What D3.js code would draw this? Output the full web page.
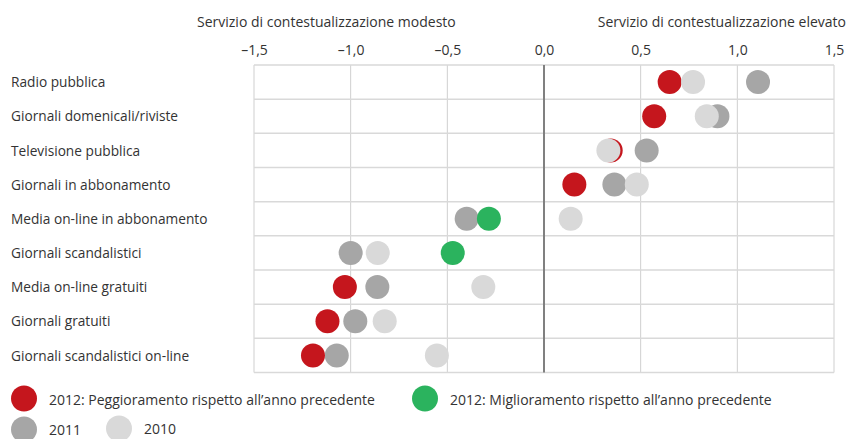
<!DOCTYPE html>
<html><head><meta charset="utf-8">
<script src="https://cdn.jsdelivr.net/npm/d3@7"></script>
<style>
body{margin:0;background:#fff;}
text{font-family:"Open Sans",sans-serif;fill:#333;}
</style></head>
<body><svg id="c" width="847" height="439"></svg>
<script>
const categories = ["Radio pubblica","Giornali domenicali/riviste","Televisione pubblica","Giornali in abbonamento","Media on-line in abbonamento","Giornali scandalistici","Media on-line gratuiti","Giornali gratuiti","Giornali scandalistici on-line"];
const v2012 = [0.65,0.57,0.345,0.157,-0.285,-0.472,-1.03,-1.12,-1.195];
const trend2012 = ["down","down","down","down","up","up","down","down","down"];
const v2011 = [1.107,0.897,0.531,0.364,-0.40,-1.00,-0.862,-0.976,-1.072];
const v2010 = [0.771,0.842,0.333,0.48,0.138,-0.86,-0.314,-0.824,-0.554];
const tickValues = [-1.5,-1.0,-0.5,0,0.5,1.0,1.5];
const tickLabels = ["–1,5","–1,0","–0,5","0,0","0,5","1,0","1,5"];
const axisTitles = ["Servizio di contestualizzazione modesto","Servizio di contestualizzazione elevato"];
const legendItems = [
 {key:"down",label:"2012: Peggioramento rispetto all’anno precedente"},
 {key:"up",label:"2012: Miglioramento rispetto all’anno precedente"},
 {key:"y2011",label:"2011"},
 {key:"y2010",label:"2010"}];

const colors = {down:"#c5161d", up:"#2bb35e", y2011:"#a6a6a6", y2010:"#d9d9d9"};
const svg = d3.select("#c");
const x = d3.scaleLinear().domain([-1.5,1.5]).range([254,834]);
const y = d3.scaleBand().domain(categories).range([65,372.5]);
const r = 12;

// grid
const g = svg.append("g");
g.append("g").attr("transform","translate(0,65)")
 .call(d3.axisTop(x).tickValues(tickValues).tickFormat((d,i)=>tickLabels[i]).tickSize(0).tickPadding(10))
 .call(a=>a.select(".domain").remove())
 .call(a=>a.selectAll("text").attr("font-size",14).attr("font-family","Open Sans").attr("fill","#333").attr("dy","0"));
g.selectAll(".vl").data(tickValues.filter(d=>d!==0)).join("line")
 .attr("x1",d=>x(d)).attr("x2",d=>x(d)).attr("y1",65).attr("y2",372.5)
 .attr("stroke","#cfcfcf").attr("stroke-width",1);
g.selectAll(".hl").data(categories.concat(["_end"])).join("line")
 .attr("x1",254).attr("x2",834)
 .attr("y1",(d,i)=>i<categories.length?y(d):y.range()[1])
 .attr("y2",(d,i)=>i<categories.length?y(d):y.range()[1])
 .attr("stroke","#d9d9d9").attr("stroke-width",1.5);
g.append("line").attr("x1",x(0)).attr("x2",x(0)).attr("y1",65).attr("y2",372.5)
 .attr("stroke","#808080").attr("stroke-width",2);

// titles
svg.append("text").attr("x",x(-1.5)-57).attr("y",27).attr("font-size",14).text(axisTitles[0]);
svg.append("text").attr("x",846).attr("y",27).attr("text-anchor","end").attr("font-size",14).text(axisTitles[1]);

// category labels
svg.selectAll(".cl").data(categories).join("text")
 .attr("x",11).attr("y",d=>y(d)+y.bandwidth()/2).attr("dy","0.38em")
 .attr("font-size",13.7).text(d=>d);

// dots
const cy = d=>y(d)+y.bandwidth()/2;
svg.selectAll(".d11").data(categories).join("circle")
 .attr("cx",(d,i)=>x(v2011[i])).attr("cy",cy).attr("r",r).attr("fill",colors.y2011);
svg.selectAll(".d12").data(categories).join("circle")
 .attr("cx",(d,i)=>x(v2012[i])).attr("cy",cy).attr("r",r).attr("fill",(d,i)=>colors[trend2012[i]]);
svg.selectAll(".d10").data(categories).join("circle")
 .attr("cx",(d,i)=>x(v2010[i])).attr("cy",cy).attr("r",r).attr("fill",colors.y2010);

// legend
const lpos = [[24,398.5],[425,398.5],[24,429.5],[119,428.5]];
const lg = svg.append("g");
legendItems.forEach((it,i)=>{
  const [lx,ly]=lpos[i];
  lg.append("circle").attr("cx",lx).attr("cy",ly).attr("r",13).attr("fill",colors[it.key]);
  lg.append("text").attr("x",lx+25).attr("y",ly+ (i>=2?5:6)).attr("font-size",14).text(it.label);
});
</script></body></html>
